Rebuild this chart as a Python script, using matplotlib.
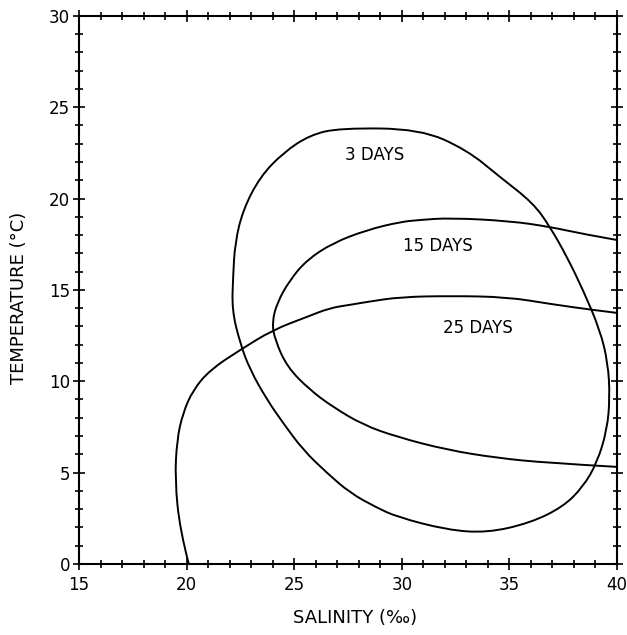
import matplotlib
matplotlib.use("Agg")
import matplotlib.pyplot as plt
from matplotlib.path import Path
from matplotlib.patches import PathPatch
from matplotlib.ticker import MultipleLocator

# --- curves (salinity in ppt, temperature in C) ---
sal_3d = [30.85, 27.13, 25.73, 24.48, 23.41, 22.62, 22.25, 22.16, 22.11, 22.48,
          22.95, 23.74, 24.48, 25.41, 26.52, 27.59, 28.80, 29.78, 32.10, 33.96,
          35.96, 37.49, 38.42, 39.07, 39.54, 39.67, 39.58, 39.21, 38.42, 37.68,
          36.89, 36.10, 34.56, 33.03]
tmp_3d = [23.81, 23.86, 23.48, 22.50, 21.18, 19.38, 17.57, 15.71, 13.90, 12.10,
          10.62, 8.98, 7.72, 6.24, 4.98, 3.89, 3.10, 2.57, 1.86, 1.70,
          2.24, 3.12, 4.21, 5.53, 7.33, 9.14, 11.00, 12.81, 15.00, 16.80,
          18.45, 19.76, 21.18, 22.66]

sal_15d = [40.0, 38.42, 36.89, 35.03, 32.24, 30.85, 29.92, 28.38, 26.80, 25.59,
           24.80, 24.20, 23.97, 24.11, 24.67, 25.73, 26.80, 28.20, 29.78,
           32.10, 34.42, 36.75, 40.0]
tmp_15d = [17.73, 18.06, 18.45, 18.77, 18.94, 18.83, 18.72, 18.28, 17.57, 16.64,
           15.54, 14.29, 13.19, 12.26, 10.78, 9.52, 8.59, 7.61, 6.95,
           6.24, 5.80, 5.53, 5.31]

sal_25d = [20.1, 19.69, 19.46, 19.55, 19.83, 20.30, 21.09, 22.48, 24.01, 25.59,
           26.66, 27.59, 28.38, 29.92, 32.24, 34.89, 36.89, 38.88, 40.0]
tmp_25d = [0.0, 1.86, 4.60, 6.79, 8.26, 9.52, 10.62, 11.71, 12.81, 13.52,
           14.01, 14.18, 14.34, 14.61, 14.67, 14.61, 14.23, 13.90, 13.74]

labels = ["3 DAYS", "15 DAYS", "25 DAYS"]
label_pos = [(28.75, 22.4), (31.7, 17.4), (33.55, 12.9)]


def mid(a, b):
    return ((a[0] + b[0]) / 2, (a[1] + b[1]) / 2)


def smooth_path(xs, ys, closed=False):
    # quadratic bezier path using the read points as control points
    pts = list(zip(xs, ys))
    verts, codes = [], []
    if closed:
        n = len(pts)
        verts.append(mid(pts[-1], pts[0])); codes.append(Path.MOVETO)
        for i in range(n):
            verts += [pts[i], mid(pts[i], pts[(i + 1) % n])]
            codes += [Path.CURVE3, Path.CURVE3]
    else:
        verts.append(pts[0]); codes.append(Path.MOVETO)
        for i in range(1, len(pts) - 2):
            verts += [pts[i], mid(pts[i], pts[i + 1])]
            codes += [Path.CURVE3, Path.CURVE3]
        verts += [pts[-2], pts[-1]]
        codes += [Path.CURVE3, Path.CURVE3]
    return Path(verts, codes)


fig = plt.figure(figsize=(6.27, 6.35), dpi=100)
ax = fig.add_axes([0.126, 0.112, 0.858, 0.863])

for s, t, cl in [(sal_3d, tmp_3d, True), (sal_15d, tmp_15d, False),
                 (sal_25d, tmp_25d, False)]:
    ax.add_patch(PathPatch(smooth_path(s, t, cl), fill=False,
                           edgecolor="black", lw=1.4))

for txt, (x, y) in zip(labels, label_pos):
    ax.text(x, y, txt, ha="center", va="center", fontsize=12)

ax.set_xlim(15, 40)
ax.set_ylim(0, 30)
ax.xaxis.set_major_locator(MultipleLocator(5))
ax.xaxis.set_minor_locator(MultipleLocator(1))
ax.yaxis.set_major_locator(MultipleLocator(5))
ax.yaxis.set_minor_locator(MultipleLocator(1))
ax.tick_params(which="both", direction="inout", top=True, right=True,
               labelsize=12, width=1.2)
ax.tick_params(which="major", length=9)
ax.tick_params(which="minor", length=6)
ax.tick_params(axis="x", pad=4)
ax.tick_params(axis="y", pad=2)
for sp in ax.spines.values():
    sp.set_linewidth(1.5)

ax.set_xlabel("SALINITY (‰)", fontsize=13)
ax.set_ylabel("TEMPERATURE (°C)", fontsize=13)
ax.xaxis.set_label_coords(0.513, -0.083)
ax.yaxis.set_label_coords(-0.095, 0.485)

fig.savefig("out.png", dpi=100)
